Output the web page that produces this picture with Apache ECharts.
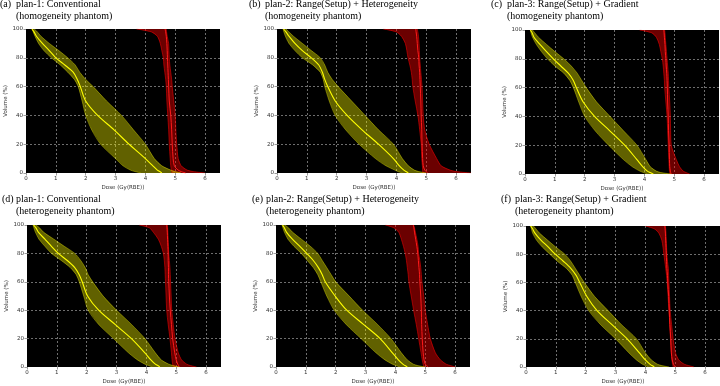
<!DOCTYPE html>
<html>
<head>
<meta charset="utf-8">
<script src="https://cdn.jsdelivr.net/npm/echarts@6/dist/echarts.min.js"></script>
<style>
  html, body { margin: 0; padding: 0; background: #fff; }
  #chart { width: 720px; height: 386px; }
</style>
</head>
<body>
<div id="chart"></div>
<script>
// volume levels (%) at which every DVH curve is sampled, dose in Gy(RBE)
const volumeLevels = [100, 98, 95, 90, 85, 80, 75, 70, 65, 60, 50, 40, 30, 20, 10, 5, 2, 1, 0];
const doseTicks = [0, 1, 2, 3, 4, 5, 6];
const volumeTicks = [0, 20, 40, 60, 80, 100];

// (a) plan-1 homogeneity
const aYellowLow  = [0.2, 0.24, 0.3, 0.42, 0.6, 0.85, 1.15, 1.4, 1.62, 1.75, 1.88, 2.0, 2.2, 2.5, 3.0, 3.25, 3.5, 3.65, 3.85];
const aYellowMid  = [0.2, 0.27, 0.35, 0.55, 0.78, 1.0, 1.3, 1.58, 1.72, 1.82, 2.0, 2.4, 2.95, 3.45, 4.0, 4.25, 4.4, 4.48, 4.55];
const aYellowHigh = [0.28, 0.38, 0.5, 0.78, 1.1, 1.4, 1.65, 1.8, 2.0, 2.25, 2.7, 3.2, 3.6, 4.0, 4.3, 4.55, 4.85, 5.0, 5.2];
const aRedLow     = [3.7, 4.2, 4.4, 4.5, 4.55, 4.6, 4.62, 4.65, 4.68, 4.7, 4.72, 4.75, 4.78, 4.8, 4.83, 4.85, 4.87, 4.88, 4.9];
const aRedMid     = [4.66, 4.68, 4.7, 4.72, 4.73, 4.74, 4.75, 4.76, 4.77, 4.78, 4.8, 4.85, 4.88, 4.9, 4.93, 4.97, 5.1, 5.2, 5.35];
const aRedHigh    = [4.7, 4.71, 4.73, 4.78, 4.79, 4.8, 4.82, 4.85, 4.88, 4.9, 4.95, 5.0, 5.02, 5.05, 5.1, 5.2, 5.4, 5.6, 6.0];

// (b) plan-2 homogeneity
const bYellowLow  = [0.2, 0.23, 0.28, 0.4, 0.6, 0.85, 1.2, 1.45, 1.55, 1.6, 1.75, 1.95, 2.3, 2.75, 3.3, 3.65, 3.95, 4.05, 4.2];
const bYellowMid  = [0.22, 0.3, 0.4, 0.6, 0.85, 1.15, 1.4, 1.52, 1.6, 1.7, 1.95, 2.35, 2.85, 3.4, 3.9, 4.1, 4.25, 4.32, 4.4];
const bYellowHigh = [0.3, 0.4, 0.55, 0.85, 1.15, 1.45, 1.6, 1.7, 1.85, 2.05, 2.5, 2.95, 3.4, 3.9, 4.2, 4.4, 4.6, 4.75, 5.0];
const bRedLow     = [3.56, 4.0, 4.17, 4.3, 4.35, 4.39, 4.45, 4.5, 4.53, 4.55, 4.63, 4.72, 4.78, 4.83, 4.85, 4.87, 4.88, 4.88, 4.89];
const bRedMid     = [4.65, 4.66, 4.68, 4.7, 4.72, 4.75, 4.76, 4.78, 4.79, 4.8, 4.82, 4.83, 4.85, 4.86, 4.88, 4.9, 4.95, 5.0, 5.05];
const bRedHigh    = [4.7, 4.72, 4.74, 4.76, 4.77, 4.78, 4.8, 4.82, 4.84, 4.86, 4.88, 4.9, 4.95, 5.1, 5.35, 5.5, 5.8, 6.0, 6.5];

// (c) plan-3 homogeneity
const cYellowLow  = [0.18, 0.2, 0.25, 0.38, 0.55, 0.75, 1.0, 1.3, 1.5, 1.62, 1.8, 2.0, 2.35, 2.8, 3.3, 3.6, 3.85, 3.97, 4.1];
const cYellowMid  = [0.18, 0.24, 0.3, 0.5, 0.72, 0.95, 1.2, 1.45, 1.62, 1.72, 1.95, 2.33, 2.84, 3.34, 3.75, 3.95, 4.1, 4.2, 4.3];
const cYellowHigh = [0.25, 0.33, 0.45, 0.72, 1.0, 1.3, 1.55, 1.75, 1.9, 2.05, 2.4, 2.85, 3.3, 3.75, 4.05, 4.2, 4.4, 4.55, 4.9];
const cRedLow     = [3.84, 4.25, 4.4, 4.5, 4.55, 4.6, 4.63, 4.65, 4.67, 4.68, 4.72, 4.76, 4.78, 4.8, 4.82, 4.83, 4.84, 4.85, 4.85];
const cRedMid     = [4.65, 4.66, 4.67, 4.69, 4.7, 4.72, 4.73, 4.75, 4.76, 4.77, 4.78, 4.8, 4.81, 4.83, 4.84, 4.85, 4.87, 4.88, 4.9];
const cRedHigh    = [4.68, 4.69, 4.7, 4.72, 4.74, 4.76, 4.78, 4.8, 4.81, 4.82, 4.85, 4.87, 4.88, 4.9, 5.07, 5.18, 5.3, 5.4, 5.52];

// (d) plan-1 heterogeneity
const dYellowLow  = [0.2, 0.23, 0.28, 0.4, 0.6, 0.82, 1.15, 1.45, 1.65, 1.75, 1.9, 2.05, 2.4, 2.9, 3.4, 3.7, 3.95, 4.07, 4.2];
const dYellowMid  = [0.22, 0.3, 0.38, 0.6, 0.82, 1.05, 1.35, 1.6, 1.75, 1.85, 2.03, 2.4, 2.95, 3.5, 3.95, 4.15, 4.3, 4.38, 4.45];
const dYellowHigh = [0.3, 0.42, 0.55, 0.9, 1.25, 1.6, 1.8, 1.95, 2.05, 2.2, 2.55, 3.0, 3.5, 3.95, 4.3, 4.5, 4.75, 4.9, 5.1];
const dRedLow     = [3.76, 4.1, 4.23, 4.4, 4.5, 4.57, 4.6, 4.62, 4.63, 4.64, 4.66, 4.68, 4.73, 4.79, 4.84, 4.86, 4.88, 4.89, 4.9];
const dRedMid     = [4.68, 4.69, 4.7, 4.71, 4.72, 4.73, 4.73, 4.74, 4.74, 4.75, 4.77, 4.8, 4.84, 4.88, 4.95, 5.0, 5.05, 5.08, 5.1];
const dRedHigh    = [4.7, 4.71, 4.72, 4.73, 4.74, 4.75, 4.77, 4.79, 4.8, 4.81, 4.83, 4.85, 4.9, 4.96, 5.07, 5.18, 5.35, 5.48, 5.68];

// (e) plan-2 heterogeneity
const eYellowLow  = [0.2, 0.23, 0.28, 0.4, 0.6, 0.85, 1.05, 1.25, 1.4, 1.5, 1.7, 1.95, 2.35, 2.85, 3.35, 3.65, 3.9, 4.02, 4.15];
const eYellowMid  = [0.22, 0.28, 0.35, 0.55, 0.8, 1.03, 1.25, 1.42, 1.55, 1.65, 1.98, 2.37, 2.93, 3.49, 3.9, 4.1, 4.25, 4.32, 4.4];
const eYellowHigh = [0.3, 0.42, 0.55, 0.85, 1.15, 1.4, 1.55, 1.7, 1.85, 2.0, 2.45, 2.9, 3.4, 3.85, 4.2, 4.4, 4.6, 4.75, 5.0];
const eRedLow     = [3.66, 3.95, 4.11, 4.2, 4.27, 4.33, 4.37, 4.4, 4.43, 4.45, 4.53, 4.61, 4.7, 4.78, 4.86, 4.9, 4.93, 4.94, 4.95];
const eRedMid     = [4.6, 4.62, 4.64, 4.68, 4.72, 4.75, 4.77, 4.79, 4.81, 4.82, 4.85, 4.87, 4.88, 4.9, 4.93, 4.96, 5.0, 5.05, 5.1];
const eRedHigh    = [4.61, 4.64, 4.67, 4.72, 4.76, 4.78, 4.82, 4.85, 4.87, 4.89, 4.95, 5.0, 5.08, 5.17, 5.34, 5.51, 5.7, 5.85, 6.01];

// (f) plan-3 heterogeneity
const fYellowLow  = [0.15, 0.18, 0.22, 0.35, 0.55, 0.8, 1.05, 1.35, 1.55, 1.65, 1.85, 2.1, 2.5, 3.0, 3.45, 3.7, 3.9, 4.0, 4.1];
const fYellowMid  = [0.16, 0.22, 0.3, 0.5, 0.75, 0.98, 1.25, 1.5, 1.68, 1.8, 2.04, 2.38, 2.88, 3.39, 3.8, 4.0, 4.15, 4.22, 4.3];
const fYellowHigh = [0.25, 0.33, 0.45, 0.72, 1.0, 1.3, 1.5, 1.65, 1.8, 1.95, 2.3, 2.75, 3.2, 3.7, 4.0, 4.2, 4.4, 4.55, 4.8];
const fRedLow     = [4.0, 4.3, 4.45, 4.55, 4.59, 4.62, 4.65, 4.68, 4.71, 4.73, 4.76, 4.79, 4.82, 4.84, 4.87, 4.89, 4.91, 4.92, 4.93];
const fRedMid     = [4.65, 4.66, 4.67, 4.68, 4.69, 4.7, 4.71, 4.72, 4.74, 4.75, 4.78, 4.8, 4.82, 4.85, 4.87, 4.9, 4.94, 4.97, 5.0];
const fRedHigh    = [4.67, 4.68, 4.69, 4.7, 4.71, 4.72, 4.74, 4.77, 4.78, 4.79, 4.81, 4.83, 4.88, 4.93, 5.01, 5.12, 5.3, 5.45, 5.63];

const panels = [
  { tag: '(a)', title: 'plan-1: Conventional\n(homogeneity phantom)', tagX: 0, titleX: 16, titleY: -1,
    grid: { left: 26, top: 29, width: 194, height: 144 },
    curves: [aYellowLow, aYellowMid, aYellowHigh, aRedLow, aRedMid, aRedHigh] },
  { tag: '(b)', title: 'plan-2: Range(Setup) + Heterogeneity\n(homogeneity phantom)', tagX: 249, titleX: 265, titleY: -1,
    grid: { left: 277, top: 29, width: 194, height: 144 },
    curves: [bYellowLow, bYellowMid, bYellowHigh, bRedLow, bRedMid, bRedHigh] },
  { tag: '(c)', title: 'plan-3: Range(Setup) + Gradient\n(homogeneity phantom)', tagX: 491, titleX: 507, titleY: -1,
    grid: { left: 525, top: 30, width: 194, height: 144 },
    curves: [cYellowLow, cYellowMid, cYellowHigh, cRedLow, cRedMid, cRedHigh] },
  { tag: '(d)', title: 'plan-1: Conventional\n(heterogeneity phantom)', tagX: 2, titleX: 16, titleY: 194,
    grid: { left: 27, top: 225, width: 194, height: 143 },
    curves: [dYellowLow, dYellowMid, dYellowHigh, dRedLow, dRedMid, dRedHigh] },
  { tag: '(e)', title: 'plan-2: Range(Setup) + Heterogeneity\n(heterogeneity phantom)', tagX: 252, titleX: 266, titleY: 194,
    grid: { left: 276, top: 225, width: 194, height: 143 },
    curves: [eYellowLow, eYellowMid, eYellowHigh, eRedLow, eRedMid, eRedHigh] },
  { tag: '(f)', title: 'plan-3: Range(Setup) + Gradient\n(heterogeneity phantom)', tagX: 501, titleX: 515, titleY: 194,
    grid: { left: 526, top: 226, width: 194, height: 143 },
    curves: [fYellowLow, fYellowMid, fYellowHigh, fRedLow, fRedMid, fRedHigh] },
];

const serif = 'Liberation Serif';
const sans = 'DejaVu Sans';

function band(idx, low, high, fill) {
  return {
    type: 'custom', xAxisIndex: idx, yAxisIndex: idx, silent: true, z: 2,
    data: [[0, 0]],
    renderItem: (params, api) => {
      const pts = [];
      volumeLevels.forEach((v, i) => pts.push(api.coord([high[i], v])));
      for (let i = volumeLevels.length - 1; i >= 0; i--) pts.push(api.coord([low[i], volumeLevels[i]]));
      return { type: 'polygon', shape: { points: pts }, style: { fill: fill } };
    }
  };
}

function curve(idx, dose, color, width, z) {
  return {
    type: 'line', xAxisIndex: idx, yAxisIndex: idx, silent: true, z: z,
    data: dose.map((d, i) => [d, volumeLevels[i]]),
    symbol: 'none', smooth: 0.3,
    lineStyle: { color: color, width: width }
  };
}

const titles = [], grids = [], xAxes = [], yAxes = [], series = [];
const tickLabel = { fontSize: 5.5, color: '#333', fontFamily: sans, margin: 3 };
const split = { show: true, showMinLine: false, showMaxLine: false, lineStyle: { color: '#b8b8b8', type: [2, 2], width: 0.6 } };

panels.forEach((p, i) => {
  titles.push({ text: p.tag, left: p.tagX, top: p.titleY, padding: 0,
    textStyle: { fontFamily: serif, fontSize: 10, fontWeight: 'normal', color: '#000', lineHeight: 11.5 } });
  titles.push({ text: p.title, left: p.titleX, top: p.titleY, padding: 0,
    textStyle: { fontFamily: serif, fontSize: 10, fontWeight: 'normal', color: '#000', lineHeight: 11.5 } });
  grids.push(Object.assign({ show: true, backgroundColor: '#000', borderWidth: 0 }, p.grid));
  xAxes.push({
    type: 'value', gridIndex: i, min: 0, max: 6.5, interval: 1,
    name: 'Dose (Gy(RBE))', nameLocation: 'middle', nameGap: 12,
    nameTextStyle: { fontSize: 5.5, color: '#333', fontFamily: sans },
    axisLine: { show: false },
    axisTick: { show: true, length: 2.5, lineStyle: { color: '#555', width: 0.6 } },
    axisLabel: Object.assign({ showMaxLabel: false, formatter: v => doseTicks.includes(v) ? String(v) : '' }, tickLabel),
    splitLine: split
  });
  yAxes.push({
    type: 'value', gridIndex: i, min: 0, max: 100, interval: 20,
    name: 'Volume (%)', nameLocation: 'middle', nameGap: 14,
    nameTextStyle: { fontSize: 5.5, color: '#333', fontFamily: sans },
    axisLine: { show: false },
    axisTick: { show: true, length: 2.5, lineStyle: { color: '#555', width: 0.6 } },
    axisLabel: Object.assign({ formatter: v => volumeTicks.includes(v) ? String(v) : '' }, tickLabel),
    splitLine: split
  });
  const [yl, ym, yh, rl, rm, rh] = p.curves;
  series.push(band(i, rl, rh, 'rgba(255,0,0,0.42)'));
  series.push(curve(i, rl, 'rgba(230,0,0,0.85)', 0.7, 3));
  series.push(curve(i, rh, 'rgba(230,0,0,0.85)', 0.7, 3));
  series.push(curve(i, rm, '#ff1a1a', 1, 4));
  series.push(band(i, yl, yh, 'rgba(255,255,0,0.38)'));
  series.push(curve(i, yl, 'rgba(255,255,0,0.55)', 0.7, 5));
  series.push(curve(i, yh, 'rgba(255,255,0,0.55)', 0.7, 5));
  series.push(curve(i, ym, '#ffff00', 1.1, 6));
});

const chart = echarts.init(document.getElementById('chart'));
chart.setOption({
  animation: false,
  backgroundColor: '#fff',
  title: titles,
  grid: grids,
  xAxis: xAxes,
  yAxis: yAxes,
  series: series
});
</script>
</body>
</html>
